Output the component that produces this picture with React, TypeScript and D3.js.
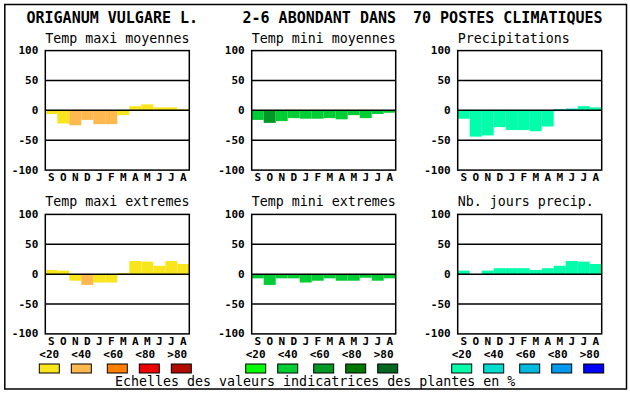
import React from "react";
import * as d3 from "d3";

const months = ["S", "O", "N", "D", "J", "F", "M", "A", "M", "J", "J", "A"];
const yTicks = [100, 50, 0, -50, -100];
const gridValues = [50, 0, -50];
const legendLabels = ["<20", "<40", "<60", "<80", ">80"];

const titleLeft = "ORIGANUM VULGARE L.";
const titleMid = "2-6 ABONDANT DANS";
const titleRight = "70 POSTES CLIMATIQUES";
const footer = "Echelles des valeurs indicatrices des plantes en %";

const warmPalette = ["#f8e51c", "#ffb84e", "#ff7f00", "#ee0000", "#b00d00"];
const greenPalette = ["#00ff00", "#00cc33", "#009926", "#007700", "#006620"];
const waterPalette = ["#00ffaa", "#00ddcc", "#00bbdd", "#0099ee", "#0000ff"];

const tmaxMoyValues = [-6, -22, -25, -16, -23, -23, -8, 7, 10, 5, 5, 2];
const tmaxMoyClass = [0, 0, 1, 1, 1, 1, 0, 0, 0, 0, 0, 0];
const tminMoyValues = [-16, -21, -18, -13, -14, -14, -13, -15, -8, -13, -6, -4];
const tminMoyClass = [1, 2, 1, 1, 1, 1, 1, 1, 1, 1, 1, 1];
const precipValues = [-14, -44, -42, -28, -33, -33, -35, -27, 2, 3, 7, 5];
const precipClass = [0, 0, 0, 0, 0, 0, 0, 0, 1, 1, 0, 0];
const tmaxExtValues = [7, 6, -11, -18, -14, -14, 2, 22, 21, 14, 22, 17];
const tmaxExtClass = [0, 0, 0, 1, 0, 0, 0, 0, 0, 0, 0, 0];
const tminExtValues = [-7, -18, -7, -7, -14, -11, -7, -11, -11, -6, -11, -7];
const tminExtClass = [1, 1, 1, 1, 1, 1, 1, 1, 1, 1, 1, 1];
const joursValues = [6, 0, 6, 10, 10, 10, 7, 10, 14, 22, 21, 17];
const joursClass = [0, 0, 0, 0, 0, 0, 0, 0, 0, 0, 0, 0];

const FONT = "'DejaVu Sans Mono', 'Liberation Mono', monospace";

const colLefts = [45.3, 251.7, 457.7];
const rowTops = [50.6, 214.4];
const PW = 144;
const PH = 119.5;

type PanelProps = {
  left: number;
  top: number;
  title: string;
  values: number[];
  classes: number[];
  palette: string[];
};

function Panel({ left, top, title, values, classes, palette }: PanelProps) {
  const x = d3.scaleBand<string>().domain(months.map((_, i) => String(i))).range([left, left + PW]).padding(0);
  const y = d3.scaleLinear().domain([-100, 100]).range([top + PH, top]);
  return (
    <g>
      <text x={left} y={top - 8} fontFamily={FONT} fontSize={13.3} fill="#000">
        {title}
      </text>
      {values.map((v, i) => (
        <rect
          key={i}
          x={x(String(i))}
          width={x.bandwidth()}
          y={Math.min(y(v), y(0))}
          height={Math.abs(y(v) - y(0))}
          fill={palette[classes[i]]}
        />
      ))}
      {gridValues.map((g) => (
        <line key={g} x1={left} x2={left + PW} y1={y(g)} y2={y(g)} stroke="#000" strokeWidth={1.5} />
      ))}
      <rect x={left} y={top} width={PW} height={PH} fill="none" stroke="#000" strokeWidth={1.5} />
      {yTicks.map((t) => (
        <text
          key={t}
          x={left - 7}
          y={y(t)}
          textAnchor="end"
          dominantBaseline="central"
          fontFamily={FONT}
          fontSize={11}
          fontWeight="bold"
          fill="#000"
        >
          {t}
        </text>
      ))}
      {months.map((m, i) => (
        <text
          key={i}
          x={(x(String(i)) as number) + x.bandwidth() / 2}
          y={top + PH + 11}
          textAnchor="middle"
          fontFamily={FONT}
          fontSize={11}
          fontWeight="bold"
          fill="#000"
        >
          {m}
        </text>
      ))}
    </g>
  );
}

const swatchOffsets = [-6, 26, 62, 94, 126];

function Legend({ left, palette }: { left: number; palette: string[] }) {
  return (
    <g>
      {legendLabels.map((l, i) => (
        <text
          key={l}
          x={left + 4 + 32 * i}
          y={357.5}
          textAnchor="middle"
          fontFamily={FONT}
          fontSize={11}
          fontWeight="bold"
          fill="#000"
        >
          {l}
        </text>
      ))}
      {palette.map((c, i) => (
        <rect key={i} x={left + swatchOffsets[i]} y={364} width={20} height={9} fill={c} stroke="#000" strokeWidth={1} />
      ))}
    </g>
  );
}

export default function App() {
  return (
    <svg width={630} height={394} style={{ position: "absolute", left: 0, top: 0, background: "#fff" }}>
      <rect x={0} y={0} width={630} height={394} fill="#fff" />
      <rect x={4.8} y={4.5} width={621.7} height={384.5} fill="none" stroke="#000" strokeWidth={1.5} />
      <text x={26.5} y={23.3} fontFamily={FONT} fontSize={15} fontWeight="bold" fill="#000">
        {titleLeft}
      </text>
      <text x={242.5} y={23.3} fontFamily={FONT} fontSize={15} fontWeight="bold" fill="#000">
        {titleMid}
      </text>
      <text x={413} y={23.3} fontFamily={FONT} fontSize={15} fontWeight="bold" fill="#000">
        {titleRight}
      </text>
      <Panel left={colLefts[0]} top={rowTops[0]} title="Temp maxi moyennes" values={tmaxMoyValues} classes={tmaxMoyClass} palette={warmPalette} />
      <Panel left={colLefts[1]} top={rowTops[0]} title="Temp mini moyennes" values={tminMoyValues} classes={tminMoyClass} palette={greenPalette} />
      <Panel left={colLefts[2]} top={rowTops[0]} title="Precipitations" values={precipValues} classes={precipClass} palette={waterPalette} />
      <Panel left={colLefts[0]} top={rowTops[1]} title="Temp maxi extremes" values={tmaxExtValues} classes={tmaxExtClass} palette={warmPalette} />
      <Panel left={colLefts[1]} top={rowTops[1]} title="Temp mini extremes" values={tminExtValues} classes={tminExtClass} palette={greenPalette} />
      <Panel left={colLefts[2]} top={rowTops[1]} title="Nb. jours precip." values={joursValues} classes={joursClass} palette={waterPalette} />
      <Legend left={colLefts[0]} palette={warmPalette} />
      <Legend left={colLefts[1]} palette={greenPalette} />
      <Legend left={colLefts[2]} palette={waterPalette} />
      <text x={115} y={386.3} fontFamily={FONT} fontSize={13.3} fill="#000">
        {footer}
      </text>
    </svg>
  );
}
